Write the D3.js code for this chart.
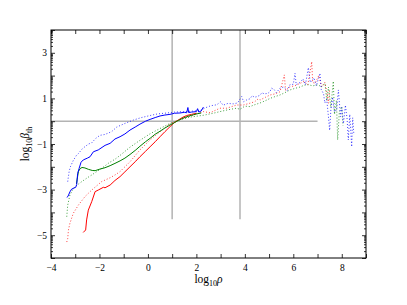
<!DOCTYPE html>
<html>
<head>
<meta charset="utf-8">
<script src="https://cdn.jsdelivr.net/npm/d3@7"></script>
<style>
  body { margin: 0; background: #fff; }
  text { font-family: "Liberation Serif", "DejaVu Serif", serif; }
</style>
</head>
<body>
<div id="chart"></div>
<script>
// data: [log10 rho, log10 beta_th]
const blueSolid = [[-3.35,-3.34],[-3.3,-3.3],[-3.22,-3.1],[-3.15,-2.98],[-3.05,-2.93],[-2.98,-2.9],[-2.94,-2.78],[-2.9,-2.3],[-2.84,-2.07],[-2.76,-1.8],[-2.67,-1.7],[-2.5,-1.62],[-2.39,-1.56],[-2.25,-1.34],[-2.05,-1.26],[-1.77,-1.06],[-1.56,-0.97],[-1.36,-0.78],[-1.15,-0.68],[-0.95,-0.56],[-0.74,-0.39],[-0.5,-0.24],[-0.33,-0.13],[-0.1,0.0],[0.09,0.08],[0.3,0.16],[0.5,0.23],[0.7,0.27],[0.91,0.3],[1.1,0.35],[1.32,0.36],[1.5,0.39],[1.6,0.37],[1.65,0.6],[1.68,0.38],[1.8,0.4],[2.0,0.42],[2.05,0.55],[2.1,0.4],[2.2,0.45],[2.29,0.62]];
const blueDotted = [[-3.31,-2.65],[-3.25,-2.2],[-3.2,-2.0],[-3.08,-1.72],[-2.95,-1.5],[-2.87,-1.42],[-2.7,-1.2],[-2.6,-1.12],[-2.45,-1.0],[-2.32,-0.95],[-2.15,-0.75],[-1.98,-0.62],[-1.77,-0.58],[-1.5,-0.46],[-1.29,-0.26],[-1.0,-0.12],[-0.6,0.05],[-0.3,0.15],[0.09,0.25],[0.4,0.32],[0.78,0.36],[1.1,0.4],[1.46,0.42],[1.8,0.44],[2.15,0.47],[2.4,0.6],[2.6,0.68],[2.84,0.72],[3.0,0.85],[3.1,0.7],[3.3,0.78],[3.52,0.76],[3.7,0.8],[3.87,1.08],[3.95,0.85],[4.1,0.95],[4.21,0.98],[4.3,1.12],[4.4,1.05],[4.5,1.08],[4.63,1.14],[4.7,1.25],[4.8,1.2],[4.95,1.22],[5.04,1.3],[5.1,1.45],[5.2,1.4],[5.3,1.25],[5.45,1.45],[5.6,1.5],[5.75,1.35],[5.86,1.6],[6.0,1.62],[6.07,2.1],[6.12,1.6],[6.28,1.7],[6.4,1.85],[6.5,1.6],[6.62,2.35],[6.7,1.7],[6.85,1.9],[6.95,1.55],[7.1,2.1],[7.15,1.4],[7.25,1.2],[7.3,0.8],[7.38,0.95],[7.45,0.2],[7.5,-0.4],[7.55,0.5],[7.62,1.05],[7.7,0.4],[7.79,0.5],[7.86,1.37],[7.95,0.2],[8.0,0.6],[8.07,-0.1],[8.15,0.7],[8.22,0.1],[8.27,-0.82],[8.33,0.3],[8.41,-1.12],[8.45,0.15],[8.5,-0.6]];
const greenSolid = [[-2.95,-2.75],[-2.92,-2.55],[-2.87,-2.21],[-2.8,-2.08],[-2.72,-2.03],[-2.6,-2.05],[-2.46,-2.11],[-2.3,-2.16],[-2.18,-2.17],[-1.98,-2.1],[-1.77,-2.04],[-1.56,-1.95],[-1.36,-1.85],[-1.15,-1.74],[-0.95,-1.62],[-0.74,-1.46],[-0.5,-1.26],[-0.33,-1.1],[-0.1,-0.9],[0.09,-0.75],[0.3,-0.57],[0.5,-0.44],[0.7,-0.3],[0.91,-0.17],[1.1,-0.06],[1.25,0.03],[1.46,0.14],[1.7,0.23],[1.87,0.28],[2.05,0.33],[2.2,0.36]];
const greenDotted = [[-3.35,-4.19],[-3.31,-3.68],[-3.22,-3.24],[-3.1,-3.0],[-3.01,-2.87],[-2.73,-2.65],[-2.5,-2.48],[-2.32,-2.36],[-2.1,-2.2],[-1.91,-2.07],[-1.6,-1.82],[-1.36,-1.67],[-1.15,-1.5],[-0.74,-1.14],[-0.33,-0.84],[0.09,-0.55],[0.5,-0.32],[0.91,-0.1],[1.25,0.04],[1.74,0.18],[2.29,0.26],[2.7,0.35],[2.97,0.42],[3.3,0.5],[3.66,0.57],[3.8,0.52],[4.0,0.66],[4.21,0.64],[4.4,0.72],[4.63,0.8],[4.85,0.9],[5.04,1.0],[5.25,1.08],[5.45,1.15],[5.65,1.25],[5.86,1.37],[6.07,1.44],[6.28,1.5],[6.45,1.58],[6.62,1.6],[6.8,1.55],[7.03,1.6],[7.15,1.5],[7.31,1.66],[7.38,0.9],[7.45,1.5],[7.55,0.6],[7.65,1.75],[7.7,0.3],[7.78,0.9],[7.83,-0.82],[7.9,0.4],[8.0,0.64],[8.05,-0.2]];
const redSolid = [[-2.67,-4.88],[-2.57,-4.77],[-2.53,-4.33],[-2.46,-3.9],[-2.32,-3.53],[-2.18,-3.09],[-2.05,-3.02],[-1.84,-2.9],[-1.77,-2.92],[-1.56,-2.8],[-1.36,-2.6],[-1.15,-2.43],[-0.95,-2.22],[-0.74,-2.0],[-0.5,-1.75],[-0.33,-1.56],[-0.1,-1.32],[0.09,-1.12],[0.3,-0.9],[0.5,-0.68],[0.7,-0.46],[0.91,-0.24],[1.08,-0.07],[1.25,0.05],[1.45,0.18],[1.6,0.25],[1.8,0.3],[2.01,0.35]];
const redDotted = [[-3.35,-5.3],[-3.31,-5.14],[-3.28,-4.77],[-3.22,-4.48],[-3.08,-4.04],[-2.87,-3.68],[-2.6,-3.31],[-2.32,-3.02],[-1.91,-2.65],[-1.56,-2.48],[-1.36,-2.36],[-1.15,-2.21],[-0.74,-1.78],[-0.33,-1.26],[0.09,-0.82],[0.5,-0.46],[0.91,-0.12],[1.25,0.05],[1.7,0.2],[2.29,0.42],[2.57,0.37],[2.97,0.57],[3.25,0.57],[3.66,0.71],[3.94,0.71],[4.21,0.79],[4.4,0.85],[4.55,0.98],[4.63,0.93],[4.85,1.05],[5.04,1.15],[5.25,1.2],[5.45,1.29],[5.63,2.03],[5.68,1.35],[5.86,1.51],[6.05,1.55],[6.28,1.66],[6.45,1.75],[6.6,1.6],[6.76,2.61],[6.8,1.7],[6.9,1.66],[7.05,2.0],[7.17,1.51],[7.3,1.7],[7.38,1.29],[7.45,0.79],[7.5,1.4]];

const xTicks = d3.range(-4, 10, 1);
const xLabels = [-4, -2, 0, 2, 4, 6, 8];
const yTicks = d3.range(-6, 5, 1);
const yLabels = [-5, -3, -1, 1, 3];

// reference lines
const hLine = {y: 0, x0: -4, x1: 7};
const vLines = [1, 3.8];
const vLineBottom = -4.3;

const margin = {top: 30, right: 41, bottom: 47, left: 51},
    width = 407 - margin.left - margin.right,
    height = 305 - margin.top - margin.bottom;

const svg = d3.select("#chart")
    .append("svg")
    .attr("width", 407)
    .attr("height", 305);

const g = svg.append("g")
    .attr("transform", `translate(${margin.left},${margin.top})`);

const x = d3.scaleLinear().domain([-4, 9]).range([0, width]);
const y = d3.scaleLinear().domain([-6, 4]).range([height, 0]);

// gray guide lines
const gray = "#b3b3b3";
g.append("line")
    .attr("x1", x(hLine.x0)).attr("x2", x(hLine.x1))
    .attr("y1", y(hLine.y)).attr("y2", y(hLine.y))
    .attr("stroke", gray).attr("stroke-width", 1.5);
g.selectAll("line.vline")
    .data(vLines)
    .enter().append("line")
    .attr("class", "vline")
    .attr("x1", d => x(d)).attr("x2", d => x(d))
    .attr("y1", y(4)).attr("y2", y(vLineBottom))
    .attr("stroke", gray).attr("stroke-width", 1.5);

// curves
const line = d3.line().x(d => x(d[0])).y(d => y(d[1]));
const series = [
    {data: redDotted, color: "#ff0000", dotted: true},
    {data: greenDotted, color: "#008000", dotted: true},
    {data: blueDotted, color: "#0000ff", dotted: true},
    {data: redSolid, color: "#ff0000", dotted: false},
    {data: greenSolid, color: "#008000", dotted: false},
    {data: blueSolid, color: "#0000ff", dotted: false}
];
g.selectAll("path.curve")
    .data(series)
    .enter().append("path")
    .attr("class", "curve")
    .attr("d", d => line(d.data))
    .attr("fill", "none")
    .attr("stroke", d => d.color)
    .attr("stroke-width", 1)
    .attr("stroke-dasharray", d => d.dotted ? "1,2" : null)
    .attr("opacity", d => d.dotted ? 0.75 : 1);

// frame
g.append("rect")
    .attr("width", width).attr("height", height)
    .attr("fill", "none").attr("stroke", "#000").attr("stroke-width", 1);

// x ticks (inward, bottom and top)
const fmt = v => (v < 0 ? "\u2212" : "") + Math.abs(v);
const xAxisB = d3.axisBottom(x).tickValues(xTicks).tickSize(-4).tickSizeOuter(0)
    .tickFormat(d => xLabels.includes(d) ? fmt(d) : "");
const xb = g.append("g").attr("transform", `translate(0,${height})`).call(xAxisB);
const xAxisT = d3.axisTop(x).tickValues(xTicks).tickSize(-4).tickSizeOuter(0).tickFormat("");
g.append("g").call(xAxisT);

// y ticks: major at integers, minor like a log decade
const yMinor = [];
yTicks.forEach(t => d3.range(2, 10).forEach(k => {
    const v = t + Math.log10(k);
    if (v < 4) yMinor.push(v);
}));
const yAxisL = d3.axisLeft(y).tickValues(yTicks).tickSize(-4).tickSizeOuter(0)
    .tickFormat(d => yLabels.includes(d) ? fmt(d) : "");
const yl = g.append("g").call(yAxisL);
const yAxisR = d3.axisRight(y).tickValues(yTicks).tickSize(-4).tickSizeOuter(0).tickFormat("");
g.append("g").attr("transform", `translate(${width},0)`).call(yAxisR);
g.append("g").call(d3.axisLeft(y).tickValues(yMinor).tickSize(-2).tickSizeOuter(0).tickFormat(""));
g.append("g").attr("transform", `translate(${width},0)`)
    .call(d3.axisRight(y).tickValues(yMinor).tickSize(-2).tickSizeOuter(0).tickFormat(""));

g.selectAll(".domain").remove();
g.selectAll(".tick line").attr("stroke", "#000").attr("stroke-width", 0.8);
g.selectAll(".tick text")
    .attr("font-family", "Liberation Serif, serif")
    .attr("font-size", 9.5)
    .attr("fill", "#000");
xb.selectAll(".tick text").attr("y", 6);
yl.selectAll(".tick text").attr("x", -4);

// axis labels
const xl = svg.append("text")
    .attr("x", margin.left + width / 2)
    .attr("y", 283)
    .attr("text-anchor", "middle")
    .attr("font-size", 11.5);
xl.append("tspan").text("log");
xl.append("tspan").attr("font-size", 8).attr("dy", 3).text("10");
xl.append("tspan").attr("dy", -3).attr("font-style", "italic").text("\u03c1");

const yLab = svg.append("text")
    .attr("transform", `translate(29,${margin.top + height / 2}) rotate(-90)`)
    .attr("text-anchor", "middle")
    .attr("font-size", 11.5);
yLab.append("tspan").text("log");
yLab.append("tspan").attr("font-size", 8).attr("dy", 3).text("10");
yLab.append("tspan").attr("dy", -3).attr("font-style", "italic").text("\u03b2");
yLab.append("tspan").attr("font-size", 8).attr("dy", 3).text("th");
</script>
</body>
</html>
